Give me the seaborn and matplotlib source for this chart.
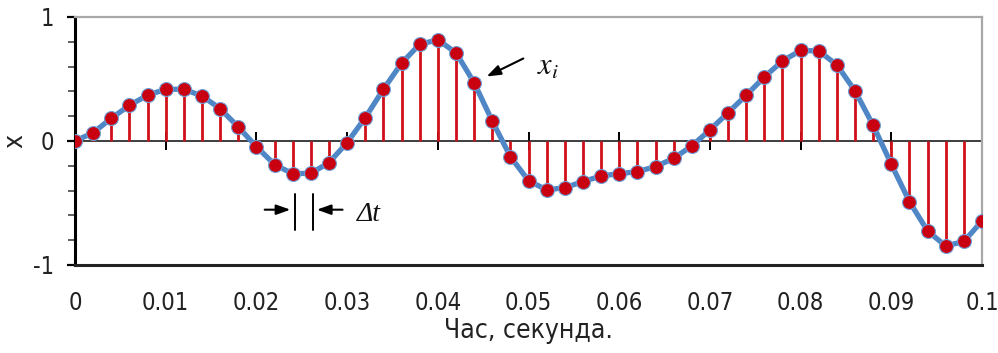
import numpy as np
import pandas as pd
import matplotlib
matplotlib.use("Agg")
import matplotlib.pyplot as plt
from matplotlib.ticker import MultipleLocator, FixedLocator
import seaborn as sns

# Sampled signal values x_i, taken every dt seconds
dt = 0.002
x_values = [
    0.000, 0.067, 0.183, 0.288, 0.369, 0.417, 0.417, 0.363, 0.260, 0.113,
    -0.046, -0.190, -0.264, -0.260, -0.175, -0.013, 0.188, 0.417, 0.627, 0.780,
    0.815, 0.712, 0.470, 0.161, -0.127, -0.320, -0.395, -0.376, -0.328, -0.282,
    -0.264, -0.247, -0.207, -0.140, -0.040, 0.089, 0.228, 0.369, 0.516, 0.645,
    0.730, 0.726, 0.613, 0.403, 0.126, -0.188, -0.490, -0.726, -0.847, -0.810,
    -0.645,
]
t_values = np.arange(len(x_values)) * dt

x_ticks = [0, 0.01, 0.02, 0.03, 0.04, 0.05, 0.06, 0.07, 0.08, 0.09, 0.1]
x_tick_labels = ["0", "0.01", "0.02", "0.03", "0.04", "0.05", "0.06", "0.07", "0.08", "0.09", "0.1"]
y_ticks = [-1, 0, 1]
y_tick_labels = ["-1", "0", "1"]

df = pd.DataFrame({"t": t_values, "x": x_values})

sns.set_theme(style="white")
plt.rcParams["font.family"] = ["DejaVu Sans"]
plt.rcParams["font.stretch"] = "condensed"
plt.rcParams["mathtext.fontset"] = "stix"

fig = plt.figure(figsize=(9.98, 3.53), dpi=100)
ax = fig.add_axes([0.0752, 0.2493, 0.9088, 0.7027])

# stems from the time axis to each sample
ax.vlines(df["t"], 0, df["x"], color="#d0101a", linewidth=2.0, zorder=2)
# signal trace and the samples
sns.lineplot(data=df, x="t", y="x", ax=ax, color="#4f86c6", linewidth=3.8,
             zorder=3, legend=False)
sns.scatterplot(data=df, x="t", y="x", ax=ax, color="#c8000f", s=100,
                edgecolor="#6f9fd6", linewidth=0.8, zorder=4, legend=False)

ax.set_xlim(0, 0.1)
ax.set_ylim(-1, 1)

# zero line carrying the time ticks
zero_axis = ax.secondary_xaxis(0.5)
zero_axis.spines["bottom"].set_color("black")
zero_axis.spines["bottom"].set_linewidth(1.6)
zero_axis.set_xticks(x_ticks, labels=[""] * len(x_ticks))
zero_axis.tick_params(axis="x", direction="inout", length=13, width=1.4,
                      color="black", bottom=True)

ax.set_xticks(x_ticks)
ax.set_xticklabels(x_tick_labels)
ax.tick_params(axis="x", length=0, pad=19, labelsize=17, labelcolor="#222222")

ax.yaxis.set_major_locator(FixedLocator(y_ticks))
ax.set_yticklabels(y_tick_labels)
ax.yaxis.set_minor_locator(MultipleLocator(0.2))
ax.tick_params(axis="y", which="major", left=True, direction="out", length=6,
               width=1.6, color="black", pad=9, labelsize=17, labelcolor="#222222")
ax.tick_params(axis="y", which="minor", left=True, direction="out", length=5,
               width=1.2, color="#444444")

for side in ("top", "right"):
    ax.spines[side].set_color("#a8a8a8")
    ax.spines[side].set_linewidth(1.6)
ax.spines["left"].set_color("black")
ax.spines["left"].set_linewidth(2.2)
ax.spines["bottom"].set_color("#222222")
ax.spines["bottom"].set_linewidth(2.2)

ax.set_xlabel("Час, секунда.", fontsize=19, color="#222222", labelpad=2)
ax.set_ylabel("x", fontsize=19, color="#222222")
ax.yaxis.set_label_coords(-0.052, 0.5)

# sample label with pointer
ax.annotate("", xy=(0.0451, 0.51), xytext=(0.0497, 0.675),
            arrowprops=dict(arrowstyle="-|>,head_length=0.7,head_width=0.25",
                            color="black", lw=1.5), zorder=5)
ax.text(0.0509, 0.60, r"$x_i$", fontsize=22, va="center", ha="left",
        color="#111111")

# sampling interval marker
for tb in (0.0242, 0.0262):
    ax.plot([tb, tb], [-0.43, -0.715], color="black", lw=1.4, zorder=5)
ax.annotate("", xy=(0.02405, -0.554), xytext=(0.0206, -0.554),
            arrowprops=dict(arrowstyle="-|>,head_length=0.7,head_width=0.25",
                            color="black", lw=1.5))
ax.annotate("", xy=(0.02635, -0.554), xytext=(0.0298, -0.554),
            arrowprops=dict(arrowstyle="-|>,head_length=0.7,head_width=0.25",
                            color="black", lw=1.5))
ax.text(0.0311, -0.59, "Δt", fontsize=20, style="italic", va="center", ha="left",
        family="Liberation Serif", color="#111111")

fig.savefig("out.png", dpi=100)
